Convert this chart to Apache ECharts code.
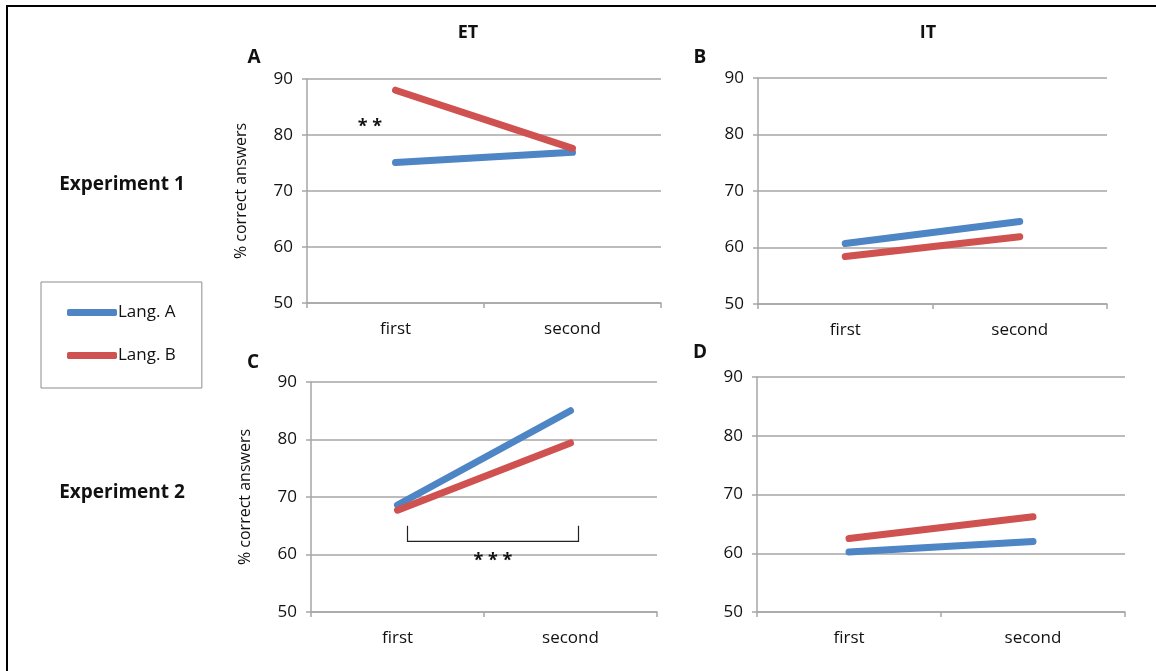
<!DOCTYPE html>
<html>
<head>
<meta charset="utf-8">
<script src="https://cdn.jsdelivr.net/npm/echarts@6/dist/echarts.min.js"></script>
<style>
html,body{margin:0;padding:0;background:#fff;}
#c{width:1156px;height:671px;}
</style>
</head>
<body>
<div id="c"></div>
<script>
// ---- data ----
const categories = ['first', 'second'];
const seriesNames = ['Lang. A', 'Lang. B'];
const yTicks = [50, 60, 70, 80, 90];
// panel A: Experiment 1, ET
const expt1ET_A = [75.1, 76.9];
const expt1ET_B = [88.0, 77.6];
// panel B: Experiment 1, IT
const expt1IT_A = [60.7, 64.6];
const expt1IT_B = [58.4, 61.9];
// panel C: Experiment 2, ET
const expt2ET_A = [68.6, 85.0];
const expt2ET_B = [67.7, 79.4];
// panel D: Experiment 2, IT
const expt2IT_A = [60.2, 62.0];
const expt2IT_B = [62.5, 66.2];
const bracketVals = [65.0, 62.3];

const BLUE = '#4d85c5', RED = '#cf5150';
const GRID = '#a6a6a6';
const FONT = 'Open Sans';

const grids = [
  {left: 307, top: 79, width: 354, height: 224},
  {left: 758, top: 78, width: 349, height: 226},
  {left: 311, top: 382, width: 346, height: 230},
  {left: 757, top: 377, width: 368, height: 235}
];

function xAx(i){
  return {
    type: 'category', gridIndex: i, data: categories, boundaryGap: true,
    axisLine: {lineStyle: {color: GRID, width: 1.5}},
    axisTick: {show: true, length: 5, lineStyle: {color: GRID, width: 1.5}},
    axisLabel: {color: '#111', fontFamily: FONT, fontSize: 17, margin: 18}
  };
}
function yAx(i, withName){
  return {
    type: 'value', gridIndex: i, min: yTicks[0], max: yTicks[yTicks.length-1], interval: 10,
    name: withName ? '% correct answers' : '', nameLocation: 'middle', nameRotate: 90, nameGap: 58,
    nameTextStyle: {color: '#111', fontFamily: FONT, fontSize: 16},
    axisLine: {show: true, lineStyle: {color: GRID, width: 1.5}},
    axisTick: {show: true, length: 5, lineStyle: {color: GRID, width: 1.5}},
    splitLine: {show: true, lineStyle: {color: GRID, width: 1.5}},
    axisLabel: {color: '#111', fontFamily: FONT, fontSize: 17, margin: 14}
  };
}
function ln(name, i, data, color){
  return {
    type: 'line', name: name, xAxisIndex: i, yAxisIndex: i, data: data,
    symbol: 'none', color: color,
    lineStyle: {width: 7, color: color, cap: 'round'},
    animation: false, z: 5
  };
}

const chart = echarts.init(document.getElementById('c'), null, {renderer: 'canvas'});
const txt = (x, y, s, size, weight) => ({
  type: 'text', x: x, y: y,
  style: {text: s, fontFamily: FONT, fontSize: size, fontWeight: weight || 'bold', fill: '#111', align: 'center', verticalAlign: 'middle'}
});

chart.setOption({
  backgroundColor: '#fff',
  animation: false,
  grid: grids,
  xAxis: [xAx(0), xAx(1), xAx(2), xAx(3)],
  yAxis: [yAx(0, true), yAx(1, false), yAx(2, true), yAx(3, false)],
  legend: {
    data: seriesNames, orient: 'vertical', left: 41, top: 282,
    padding: [22, 26, 24, 26], itemGap: 26,
    itemWidth: 50, itemHeight: 7, icon: 'roundRect',
    borderColor: '#8c8c8c', borderWidth: 1,
    textStyle: {color: '#111', fontFamily: FONT, fontSize: 17, padding: [0,0,0,-4]}
  },
  series: [
    ln(seriesNames[0], 0, expt1ET_A, BLUE), ln(seriesNames[1], 0, expt1ET_B, RED),
    ln(seriesNames[0], 1, expt1IT_A, BLUE), ln(seriesNames[1], 1, expt1IT_B, RED),
    ln(seriesNames[0], 2, expt2ET_A, BLUE), ln(seriesNames[1], 2, expt2ET_B, RED),
    ln(seriesNames[0], 3, expt2IT_A, BLUE), ln(seriesNames[1], 3, expt2IT_B, RED)
  ]
});

// bracket for panel C, from the axis scales
const p0 = chart.convertToPixel({gridIndex: 2}, [categories[0], bracketVals[0]]);
const p1 = chart.convertToPixel({gridIndex: 2}, [categories[1], bracketVals[1]]);
const bx0 = p0[0] + 10, bx1 = p1[0] + 8, byTop = p0[1], byBot = chart.convertToPixel({gridIndex: 2}, [categories[0], bracketVals[1]])[1];

chart.setOption({
  graphic: [
    // outer frame (top and left edges)
    {type: 'line', shape: {x1: 6, y1: 6, x2: 1156, y2: 6}, style: {stroke: '#000', lineWidth: 2}},
    {type: 'line', shape: {x1: 7, y1: 6, x2: 7, y2: 671}, style: {stroke: '#000', lineWidth: 2}},
    txt(468, 33, 'ET', 18), txt(928, 33, 'IT', 18),
    txt(254, 58, 'A', 19), txt(700, 58, 'B', 19),
    txt(253, 363, 'C', 19), txt(700, 353, 'D', 19),
    txt(122, 185, 'Experiment 1', 19), txt(122, 493, 'Experiment 2', 19),
    txt(370, 127, '* *', 18),
    txt(493, 561, '* * *', 18),
    {type: 'polyline', shape: {points: [[bx0, byTop], [bx0, byBot], [bx1, byBot], [bx1, byTop]]},
     style: {stroke: '#222', lineWidth: 1.2, fill: null}}
  ]
});
</script>
</body>
</html>
